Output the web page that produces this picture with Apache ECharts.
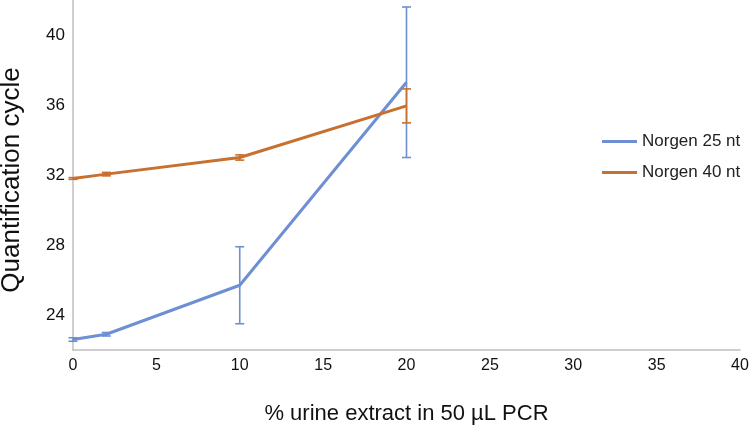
<!DOCTYPE html>
<html><head><meta charset="utf-8">
<script src="https://cdn.jsdelivr.net/npm/echarts@6/dist/echarts.min.js"></script>
<style>html,body{margin:0;padding:0;background:#fff}#c{width:756px;height:427px}</style>
</head><body><div id="c"></div>
<script>
const xValues = [0, 2, 10, 20];
const norgen25 = [22.6, 22.9, 25.7, 37.3];
const norgen25Err = [0.1, 0.1, 2.2, 4.3];
const norgen40 = [31.8, 32.05, 33.0, 35.95];
const norgen40Err = [0.05, 0.1, 0.15, 0.97];
const seriesNames = ['Norgen 25 nt', 'Norgen 40 nt'];
const colors = ['#6E8FD3', '#C8702F'];

function pairs(ys){ return xValues.map((x,i)=>[x, ys[i]]); }
function errData(ys, es){ return xValues.map((x,i)=>[x, ys[i]-es[i], ys[i]+es[i]]); }
function errSeries(ys, es, color){
  return {
    type:'custom', silent:true, z:3,
    data: errData(ys, es),
    renderItem: function(params, api){
      const lo = api.coord([api.value(0), api.value(1)]);
      const hi = api.coord([api.value(0), api.value(2)]);
      const w = 4.5;
      const st = {stroke: color, lineWidth: 1.6};
      return {type:'group', children:[
        {type:'line', shape:{x1:lo[0],y1:lo[1],x2:hi[0],y2:hi[1]}, style:st},
        {type:'line', shape:{x1:lo[0]-w,y1:lo[1],x2:lo[0]+w,y2:lo[1]}, style:st},
        {type:'line', shape:{x1:hi[0]-w,y1:hi[1],x2:hi[0]+w,y2:hi[1]}, style:st}
      ]};
    }
  };
}

const chart = echarts.init(document.getElementById('c'), null, {renderer:'canvas'});
chart.setOption({
  animation:false,
  backgroundColor:'#fff',
  textStyle:{fontFamily:'Liberation Sans, Arial, sans-serif'},
  grid:{left:73, right:16, top:0, bottom:77, containLabel:false, outerBoundsMode:'none'},
  legend:{
    orient:'vertical', left:597, top:128, itemGap:14,
    itemWidth:35, itemHeight:3, icon:'rect',
    data: seriesNames,
    textStyle:{fontSize:17, color:'#222', padding:[0,0,0,0]}
  },
  xAxis:{
    type:'value', min:0, max:40, interval:5,
    name:'% urine extract in 50 µL PCR', nameLocation:'middle', nameGap:53,
    nameTextStyle:{fontSize:22, color:'#111'},
    axisLine:{show:true, lineStyle:{color:'#BFBFBF', width:1.5}},
    axisTick:{show:false}, splitLine:{show:false},
    axisLabel:{fontSize:16, color:'#111', margin:8}
  },
  yAxis:{
    type:'value', min:22, max:42, interval:2,
    name:'Quantification cycle', nameLocation:'middle', nameGap:48,
    nameTextStyle:{fontSize:26, color:'#111', padding:[0,10,0,0]},
    axisLine:{show:true, lineStyle:{color:'#BFBFBF', width:1.5}},
    axisTick:{show:false}, splitLine:{show:false},
    axisLabel:{fontSize:17, color:'#111', margin:8,
      formatter: v => (v % 4 === 0 && v < 42) ? String(v) : ''}
  },
  series:[
    {name:seriesNames[0], type:'line', data:pairs(norgen25), symbol:'none',
     lineStyle:{color:colors[0], width:3}, itemStyle:{color:colors[0]}, z:2},
    {name:seriesNames[1], type:'line', data:pairs(norgen40), symbol:'none',
     lineStyle:{color:colors[1], width:3}, itemStyle:{color:colors[1]}, z:2},
    errSeries(norgen25, norgen25Err, colors[0]),
    errSeries(norgen40, norgen40Err, colors[1])
  ]
});
</script></body></html>
